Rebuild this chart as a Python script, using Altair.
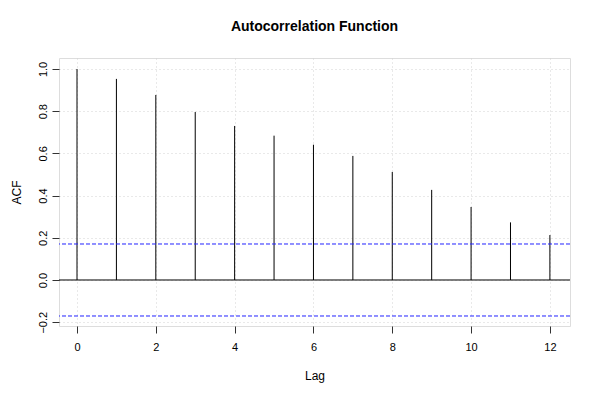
import altair as alt
import pandas as pd

lags = list(range(13))
acf_values = [1.0, 0.953, 0.877, 0.796, 0.730, 0.684, 0.641, 0.588, 0.512, 0.427, 0.346, 0.273, 0.213]
ci_bounds = [0.1706, -0.1706]
x_ticks = [0, 2, 4, 6, 8, 10, 12]
y_ticks = [-0.2, 0.0, 0.2, 0.4, 0.6, 0.8, 1.0]

df = pd.DataFrame({"lag": lags, "acf": acf_values, "zero": [0.0] * len(lags)})
ci = pd.DataFrame({"ci": ci_bounds})
zero_df = pd.DataFrame({"z": [0.0]})

FONT = "Liberation Sans"

xscale = alt.Scale(domain=[-0.457, 12.51], nice=False, zero=False)
yscale = alt.Scale(domain=[-0.218, 1.052], nice=False, zero=False)

xaxis = alt.Axis(values=x_ticks, title="Lag", grid=True, gridColor="#d3d3d3", gridDash=[1, 3],
                 domain=False, tickColor="#333", tickSize=7, labelPadding=8, labelFontSize=11,
                 labelFont=FONT, titleFont=FONT, titleFontSize=12, titleFontWeight="normal",
                 titlePadding=18, labelColor="black", titleColor="black", format="d")
yaxis = alt.Axis(values=y_ticks, title="ACF", grid=True, gridColor="#d3d3d3", gridDash=[1, 3],
                 domain=False, tickColor="#333", tickSize=7, labelAngle=-90, labelAlign="center",
                 labelBaseline="bottom", labelPadding=4, labelFontSize=11, labelFont=FONT,
                 titleFont=FONT, titleFontSize=12, titleFontWeight="normal", titlePadding=14,
                 labelColor="black", titleColor="black", format=".1f")

bars = alt.Chart(df).mark_rule(color="black", strokeWidth=1).encode(
    x=alt.X("lag:Q", scale=xscale, axis=xaxis),
    y=alt.Y("zero:Q", scale=yscale, axis=yaxis),
    y2="acf:Q",
)

zero_line = alt.Chart(zero_df).mark_rule(color="black", strokeWidth=1).encode(
    y=alt.Y("z:Q", scale=yscale)
)

ci_lines = alt.Chart(ci).mark_rule(color="#2222ff", strokeWidth=1, strokeDash=[4, 2]).encode(
    y=alt.Y("ci:Q", scale=yscale)
)

chart = alt.layer(bars, zero_line, ci_lines).properties(
    width=511, height=268,
    title=alt.TitleParams("Autocorrelation Function", font=FONT, fontSize=14, fontWeight="bold",
                          color="black", offset=24, anchor="middle"),
    autosize=alt.AutoSizeParams(type="none"),
    padding={"left": 51, "top": 50, "right": 22, "bottom": 66},
).configure_view(stroke="#444", strokeWidth=1).configure(background="white")

chart.save("out.html", embed_options={"renderer": "svg", "actions": False})
